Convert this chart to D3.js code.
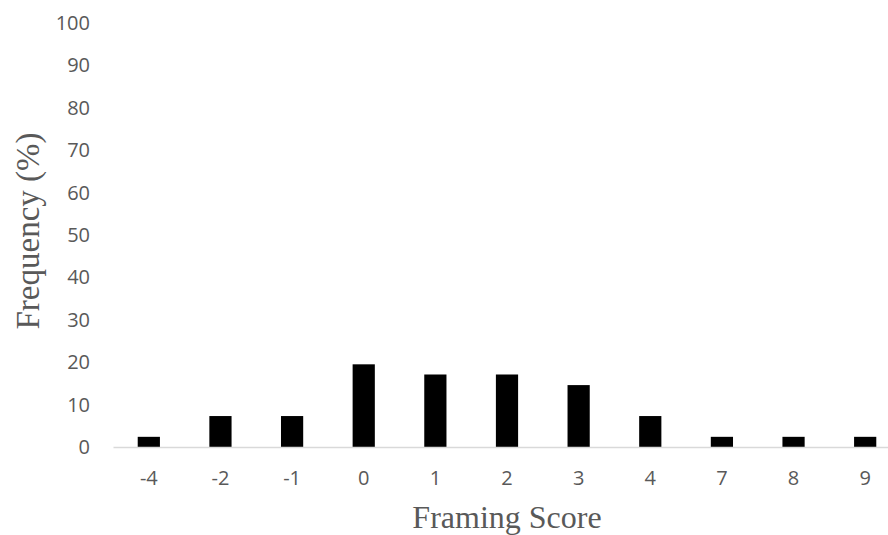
<!DOCTYPE html>
<html><head><meta charset="utf-8">
<script src="https://cdn.jsdelivr.net/npm/d3@7"></script>
<style>body{margin:0;background:#fff}svg{display:block}</style>
</head><body>
<script>
const categories = ["-4","-2","-1","0","1","2","3","4","7","8","9"];
const frequency = [2.4, 7.3, 7.3, 19.5, 17.1, 17.1, 14.6, 7.3, 2.4, 2.4, 2.4];
const yTicks = [0,10,20,30,40,50,60,70,80,90,100];
const xTitle = "Framing Score";
const yTitle = "Frequency (%)";

const W = 888, H = 535;
const svg = d3.select("body").append("svg").attr("width", W).attr("height", H);
const x = d3.scaleBand().domain(categories).range([113, 901]).paddingInner(0.69).paddingOuter(0.345);
const y = d3.scaleLinear().domain([0, 100]).range([447, 23]);

const tickFont = "'Open Sans', 'Noto Sans', sans-serif";
// y axis labels
const ya = svg.append("g").attr("transform", "translate(90,0)")
  .call(d3.axisLeft(y).tickValues(yTicks).tickSize(0).tickPadding(0));
ya.select(".domain").remove();
ya.selectAll("text").attr("font-family", tickFont).attr("font-size", 20).attr("fill", "#595959");

// bars
svg.append("g").selectAll("rect").data(categories).join("rect")
  .attr("x", d => x(d)).attr("width", x.bandwidth())
  .attr("y", (d,i) => y(frequency[i])).attr("height", (d,i) => y(0) - y(frequency[i]))
  .attr("fill", "#000");

// x axis
const xa = svg.append("g").attr("transform", `translate(0,${y(0)})`)
  .call(d3.axisBottom(x).tickSize(0).tickPadding(24));
xa.select(".domain").attr("stroke", "#d9d9d9").attr("stroke-width", 1.5);
xa.selectAll("text").attr("font-family", tickFont).attr("font-size", 20).attr("fill", "#595959");

// titles
svg.append("text").attr("x", 507).attr("y", 528).attr("text-anchor", "middle")
  .attr("font-family", "'Liberation Serif', 'Times New Roman', serif").attr("font-size", 32)
  .attr("fill", "#595959").text(xTitle);
svg.append("text").attr("transform", "translate(39,231) rotate(-90)").attr("text-anchor", "middle")
  .attr("font-family", "'Liberation Serif', 'Times New Roman', serif").attr("font-size", 33)
  .attr("fill", "#595959").text(yTitle);
</script>
</body></html>
